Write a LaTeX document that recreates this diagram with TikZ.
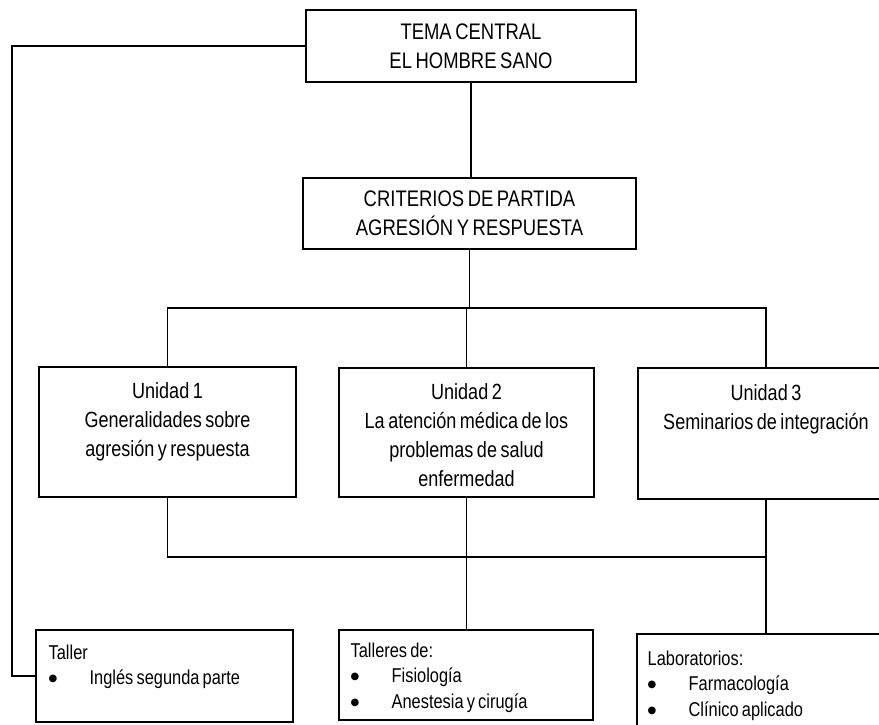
\documentclass[tikz,border=0pt]{standalone}
\usepackage{fontspec}
\setmainfont[FakeStretch=0.82,WordSpace=0.7]{Liberation Sans}
\newfontfamily\symf{DejaVu Sans}
\newcommand{\bul}{\makebox[41pt][l]{\raisebox{3pt}{\symf\fontsize{10}{20}\selectfont ●}}}
\begin{document}
\begin{tikzpicture}[x=1pt,y=-1pt,line width=1.3pt,
  box/.style={draw,rectangle,inner sep=0pt},
  ttl/.style={font=\fontsize{22.5}{29}\selectfont,align=center},
  utxt/.style={font=\fontsize{22}{29}\selectfont,align=center,inner sep=0pt,anchor=north},
  btxt/.style={font=\fontsize{20}{25.5}\selectfont,align=left,inner sep=0pt,anchor=north west}]
\clip (0,0) rectangle (879,725);
% top level
\node[box,minimum width=330pt,minimum height=72pt,ttl] (top) at (471,46) {TEMA CENTRAL\\EL HOMBRE SANO};
\node[box,minimum width=333pt,minimum height=71pt,ttl] (crit) at (469.5,213.5) {CRITERIOS DE PARTIDA\\AGRESIÓN Y RESPUESTA};
% units
\node[box,minimum width=257pt,minimum height=130pt] (u1) at (167.5,432) {};
\node[utxt] (u1t) at (167.5,382) {Unidad 1\\Generalidades sobre\\agresión y respuesta};
\node[box,minimum width=255pt,minimum height=129pt] (u2) at (466.5,432.5) {};
\node[utxt] (u2t) at (466.5,383) {Unidad 2\\La atención médica de los\\problemas de salud\\enfermedad};
\node[box,minimum width=256pt,minimum height=131pt] (u3) at (766,433.5) {};
\node[utxt] (u3t) at (766,384) {Unidad 3\\Seminarios de integración};
% bottom boxes
\node[box,minimum width=257pt,minimum height=92pt] (b1) at (164.5,676) {};
\node[btxt] (b1t) at (48,644) {Taller\\\bul Inglés segunda parte};
\node[box,minimum width=254pt,minimum height=90pt] (b2) at (466,675) {};
\node[btxt] (b2t) at (350,642) {Talleres de:\\\bul Fisiología\\\bul Anestesia y cirugía};
\node[box,minimum width=257pt,minimum height=96pt] (b3) at (765.5,682) {};
\node[btxt] (b3t) at (647,650) {Laboratorios:\\\bul Farmacología\\\bul Clínico aplicado};
% helper coordinates
\coordinate (hb) at (0,308);
\coordinate (lb) at (0,557);
\coordinate (lx) at (12,0);
% connectors
\draw (top.south) -- (top.south |- crit.north);
\draw (crit.south) -- (crit.south |- hb);
\draw (u1.north) -- (u1.north |- hb) -- (u3.north |- hb) -- (u3.north);
\draw (u2.north) -- (u2.north |- hb);
\draw (u1.south) -- (u1.south |- lb) -- (u3.south |- lb);
\draw (u3.south) -- (u3.south |- b3.north);
\draw (u2.south) -- (u2.south |- b2.north);
\draw (top.west) -- (top.west -| lx) |- (b1.west);
\end{tikzpicture}
\end{document}
